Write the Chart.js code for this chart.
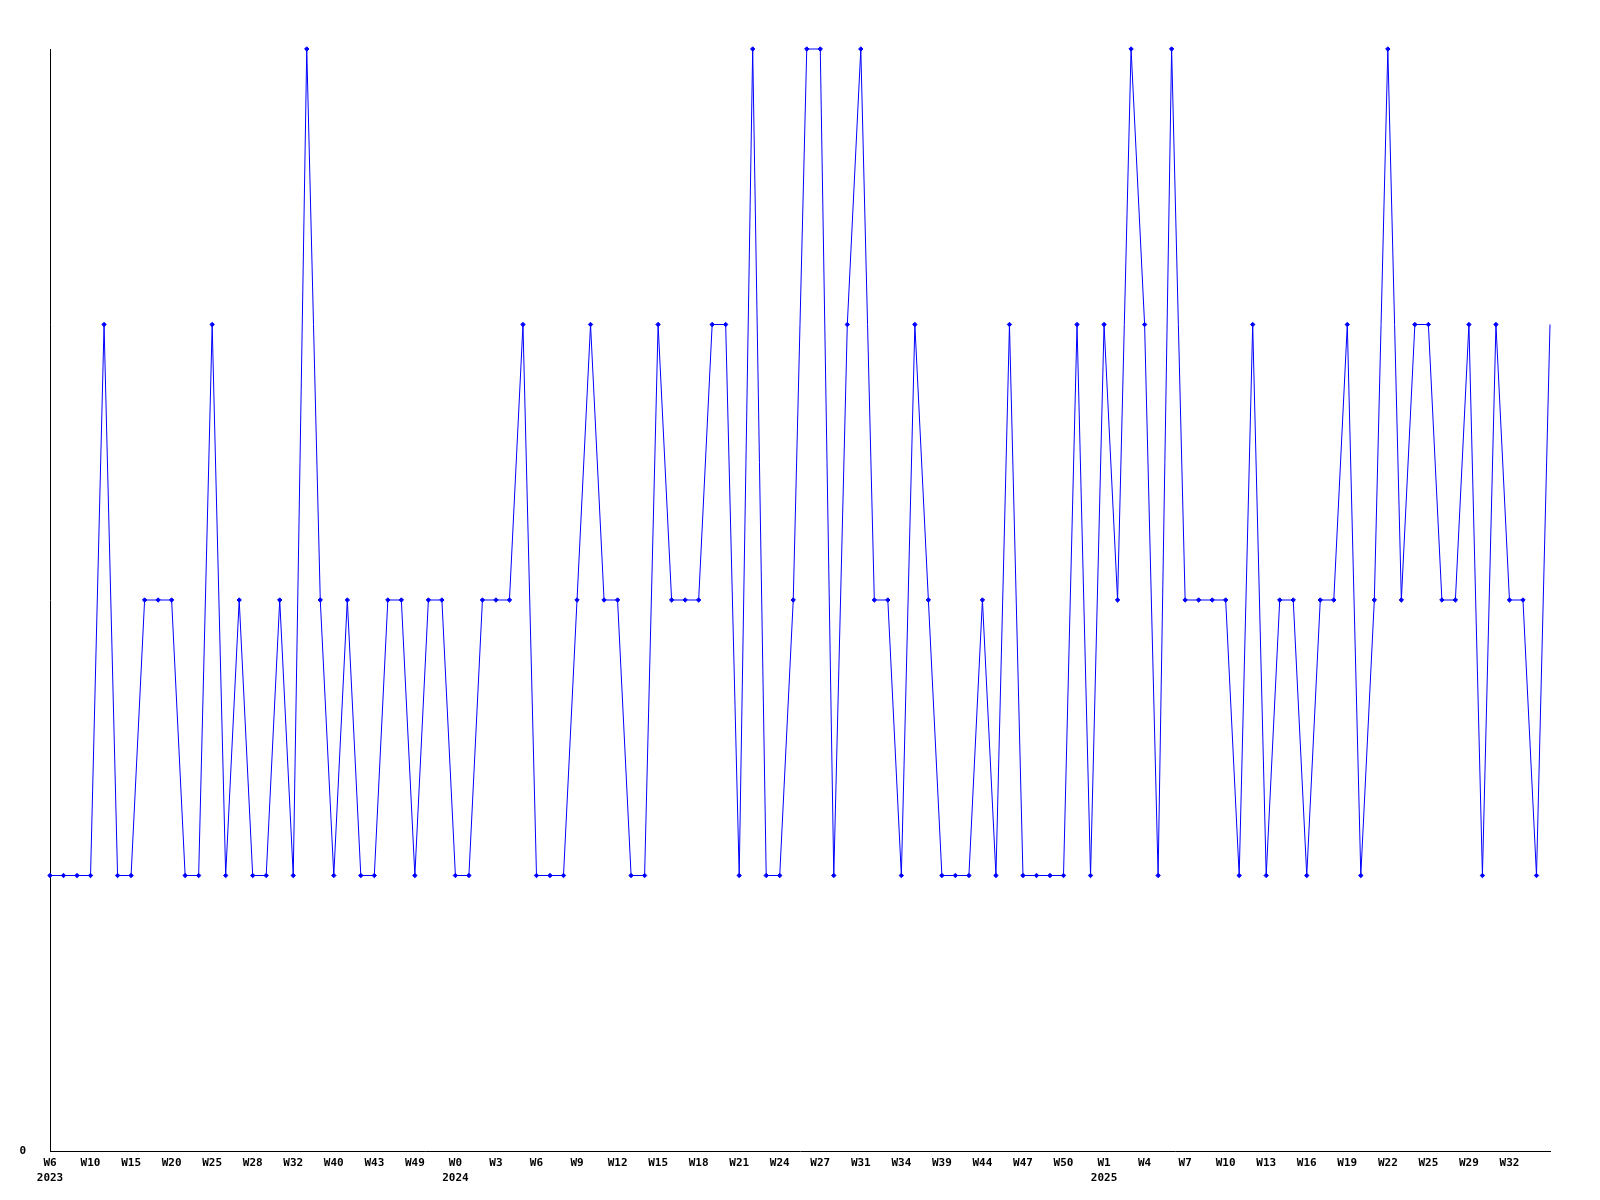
<!DOCTYPE html>
<html>
<head>
<meta charset="utf-8">
<script src="https://cdn.jsdelivr.net/npm/chart.js@4"></script>
<style>
    html, body { margin: 0; padding: 0; background: #fff; }
    #wrap { width: 1600px; height: 1200px; }
</style>
</head>
<body>
<div id="wrap"><canvas id="weekly_chart" width="1600" height="1200"></canvas></div>
<script>
// week labels per year (only every 3rd one is printed on the axis)
const weeks2023 = ['W6', 'W7', 'W8', 'W10', 'W12', 'W13', 'W15', 'W17', 'W18', 'W20',
    'W22', 'W23', 'W25', 'W26', 'W27', 'W28', 'W29', 'W31', 'W32', 'W34',
    'W37', 'W40', 'W41', 'W42', 'W43', 'W45', 'W47', 'W49', 'W50', 'W51'];
const weeks2024 = ['W0', 'W1', 'W2', 'W3', 'W4', 'W5', 'W6', 'W7', 'W8', 'W9',
    'W10', 'W11', 'W12', 'W13', 'W14', 'W15', 'W16', 'W17', 'W18', 'W19',
    'W20', 'W21', 'W22', 'W23', 'W24', 'W25', 'W26', 'W27', 'W28', 'W30',
    'W31', 'W32', 'W33', 'W34', 'W36', 'W38', 'W39', 'W41', 'W42', 'W44',
    'W45', 'W46', 'W47', 'W48', 'W49', 'W50', 'W51', 'W52'];
const weeks2025 = ['W1', 'W2', 'W3', 'W4', 'W5', 'W6', 'W7', 'W8', 'W9', 'W10',
    'W11', 'W12', 'W13', 'W14', 'W15', 'W16', 'W17', 'W18', 'W19', 'W20',
    'W21', 'W22', 'W23', 'W24', 'W25', 'W26', 'W28', 'W29', 'W30', 'W31',
    'W32', 'W33', 'W34', 'W35'];

const years = [2023, 2024, 2025];

const counts = [
    1, 1, 1, 1, 3, 1, 1, 2, 2, 2,
    1, 1, 3, 1, 2, 1, 1, 2, 1, 4,
    2, 1, 2, 1, 1, 2, 2, 1, 2, 2,
    1, 1, 2, 2, 2, 3, 1, 1, 1, 2,
    3, 2, 2, 1, 1, 3, 2, 2, 2, 3,
    3, 1, 4, 1, 1, 2, 4, 4, 1, 3,
    4, 2, 2, 1, 3, 2, 1, 1, 1, 2,
    1, 3, 1, 1, 1, 1, 3, 1, 3, 2,
    4, 3, 1, 4, 2, 2, 2, 2, 1, 3,
    1, 2, 2, 1, 2, 2, 3, 1, 2, 4,
    2, 3, 3, 2, 2, 3, 1, 3, 2, 2,
    1, 3
];

const yMax = 4;
const labelEvery = 3;

let labels = [];
let labelYears = [];
[weeks2023, weeks2024, weeks2025].forEach((list, n) => {
    list.forEach(w => {
        labels.push(w);
        labelYears.push(years[n]);
    });
});

const tickFont = { family: '"DejaVu Sans Mono", monospace', size: 11, weight: 'bold', lineHeight: '15px' };

new Chart('weekly_chart', {
    type: 'line',
    data: {
        labels: labels,
        datasets: [{
            data: counts,
            borderColor: '#0000ff',
            backgroundColor: '#0000ff',
            borderWidth: 1,
            tension: 0,
            clip: false,
            pointStyle: 'rectRot',
            pointRadius: ctx => ctx.dataIndex === counts.length - 1 ? 0 : 2.2,
            pointBorderWidth: 1,
            fill: false
        }]
    },
    options: {
        responsive: false,
        animation: false,
        events: [],
        layout: { padding: { top: 49, right: 50, left: 0, bottom: 0 } },
        plugins: {
            legend: { display: false },
            tooltip: { enabled: false }
        },
        scales: {
            x: {
                type: 'category',
                offset: false,
                grid: { display: false, drawTicks: false },
                border: { display: true, color: '#000', width: 1 },
                ticks: {
                    autoSkip: false,
                    maxRotation: 0,
                    minRotation: 0,
                    padding: 5,
                    color: '#000',
                    font: tickFont,
                    callback(value, index) {
                        // no label for the last, unfinished group of weeks
                        if (index % labelEvery !== 0 || index + labelEvery > counts.length) return '';
                        let week = labels[index];
                        if (index === 0 || labelYears[index] !== labelYears[index - 1]) {
                            return [week, String(labelYears[index])];
                        }
                        return week;
                    }
                },
                afterFit(scale) { scale.height = 49; }
            },
            y: {
                min: 0,
                max: yMax,
                grid: { display: false, drawTicks: false },
                border: { display: true, color: '#000', width: 1 },
                ticks: {
                    stepSize: 1,
                    padding: 24,
                    color: '#000',
                    font: tickFont,
                    callback: value => value === 0 ? '0' : ''
                },
                afterFit(scale) { scale.width = 50; }
            }
        }
    }
});
</script>
</body>
</html>
